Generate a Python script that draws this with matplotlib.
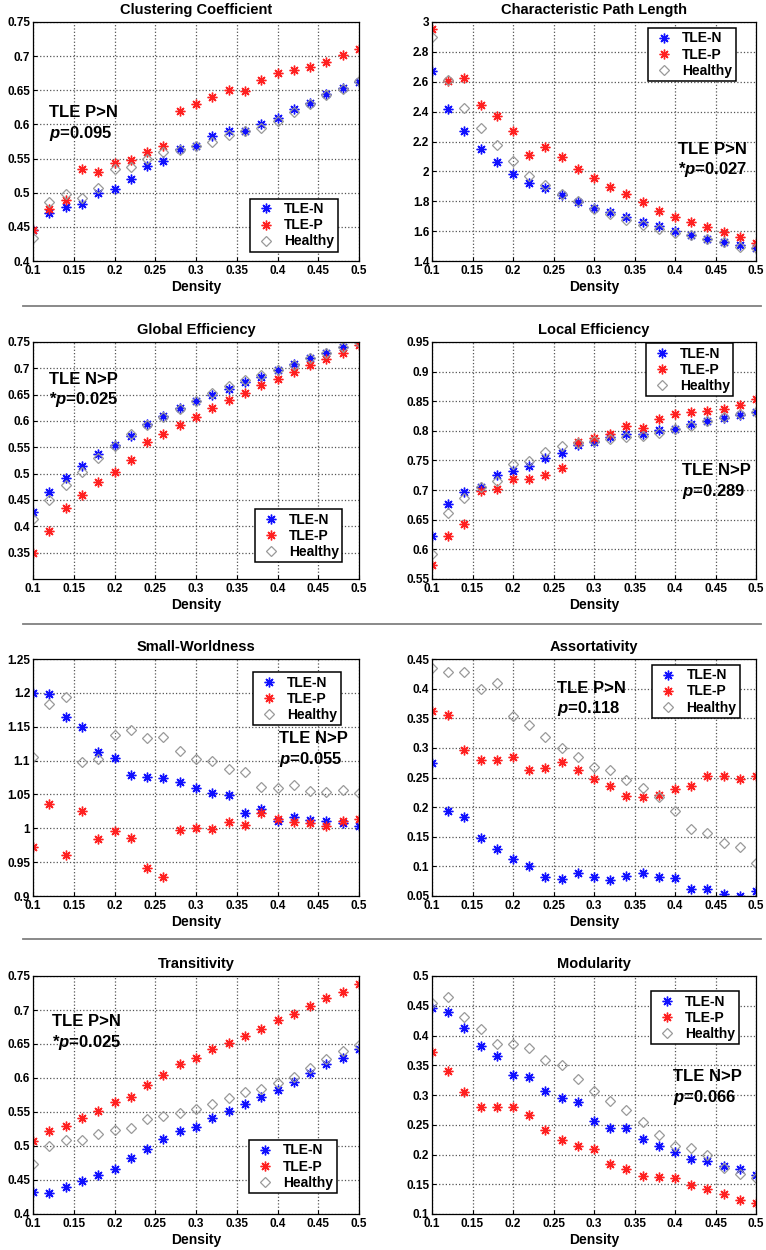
import numpy as np
import matplotlib
matplotlib.use("Agg")
import matplotlib.pyplot as plt
from matplotlib.lines import Line2D

plt.rcParams["font.family"] = ["Liberation Sans", "DejaVu Sans"]
plt.rcParams["font.weight"] = "bold"
plt.rcParams["mathtext.fontset"] = "custom"
plt.rcParams["mathtext.it"] = "Liberation Sans:italic:bold"
plt.rcParams["mathtext.rm"] = "Liberation Sans:bold"

# density values (x axis)
density = [0.10, 0.12, 0.14, 0.16, 0.18, 0.20, 0.22, 0.24, 0.26, 0.28, 0.30,
           0.32, 0.34, 0.36, 0.38, 0.40, 0.42, 0.44, 0.46, 0.48, 0.50]

# clustering coefficient
cc_n = [0.446, 0.470, 0.479, 0.484, 0.500, 0.505, 0.520, 0.539, 0.547, 0.564, 0.569,
        0.583, 0.590, 0.591, 0.601, 0.609, 0.622, 0.631, 0.644, 0.653, 0.662]
cc_p = [0.446, 0.476, 0.489, 0.535, 0.531, 0.544, 0.548, 0.560, 0.568, 0.620, 0.630,
        0.640, 0.650, 0.649, 0.665, 0.676, 0.679, 0.684, 0.691, 0.701, 0.711]
cc_h = [0.433, 0.486, 0.498, 0.492, 0.507, 0.534, 0.538, 0.549, 0.559, 0.563, 0.568,
        0.575, 0.585, 0.591, 0.595, 0.605, 0.618, 0.630, 0.643, 0.652, 0.664]

# characteristic path length
cpl_n = [2.67, 2.42, 2.27, 2.15, 2.06, 1.985, 1.92, 1.89, 1.84, 1.795, 1.757,
         1.73, 1.694, 1.66, 1.632, 1.603, 1.571, 1.545, 1.525, 1.505, 1.485]
cpl_p = [2.95, 2.605, 2.623, 2.446, 2.368, 2.27, 2.107, 2.163, 2.098, 2.018, 1.953,
         1.897, 1.846, 1.792, 1.732, 1.697, 1.661, 1.63, 1.594, 1.56, 1.518]
cpl_h = [2.90, 2.612, 2.426, 2.288, 2.174, 2.067, 1.971, 1.908, 1.846, 1.80, 1.748,
         1.712, 1.672, 1.643, 1.614, 1.585, 1.571, 1.545, 1.525, 1.496, 1.485]

# global efficiency
ge_n = [0.428, 0.465, 0.492, 0.515, 0.537, 0.555, 0.571, 0.595, 0.610, 0.625, 0.638,
        0.650, 0.661, 0.674, 0.684, 0.697, 0.708, 0.720, 0.730, 0.741, 0.750]
ge_p = [0.349, 0.391, 0.434, 0.459, 0.485, 0.503, 0.526, 0.561, 0.576, 0.592, 0.608,
        0.624, 0.639, 0.653, 0.668, 0.679, 0.693, 0.706, 0.717, 0.730, 0.744]
ge_h = [0.414, 0.450, 0.478, 0.504, 0.529, 0.552, 0.575, 0.592, 0.608, 0.622, 0.638,
        0.653, 0.666, 0.677, 0.688, 0.697, 0.706, 0.720, 0.730, 0.741, 0.750]

# local efficiency
le_n = [0.623, 0.676, 0.697, 0.705, 0.726, 0.733, 0.741, 0.755, 0.763, 0.776, 0.781,
        0.790, 0.795, 0.794, 0.801, 0.804, 0.811, 0.816, 0.822, 0.826, 0.832]
le_p = [0.573, 0.623, 0.642, 0.699, 0.702, 0.719, 0.719, 0.726, 0.738, 0.782, 0.788,
        0.795, 0.809, 0.805, 0.820, 0.829, 0.832, 0.834, 0.837, 0.843, 0.853]
le_h = [0.592, 0.661, 0.686, 0.705, 0.716, 0.744, 0.750, 0.764, 0.774, 0.779, 0.783,
        0.786, 0.790, 0.792, 0.796, 0.803, 0.809, 0.816, 0.823, 0.828, 0.832]

# small-worldness
sw_n = [1.200, 1.199, 1.164, 1.150, 1.112, 1.104, 1.079, 1.076, 1.075, 1.068, 1.060,
        1.052, 1.049, 1.023, 1.028, 1.011, 1.016, 1.012, 1.011, 1.008, 1.004]
sw_p = [0.973, 1.036, 0.960, 1.025, 0.984, 0.996, 0.986, 0.941, 0.928, 0.997, 1.001,
        0.999, 1.010, 1.005, 1.023, 1.013, 1.009, 1.008, 1.004, 1.011, 1.014]
sw_h = [1.106, 1.183, 1.194, 1.098, 1.102, 1.138, 1.145, 1.134, 1.135, 1.114, 1.102,
        1.099, 1.087, 1.083, 1.061, 1.059, 1.064, 1.055, 1.054, 1.057, 1.052]

# assortativity
as_n = [0.275, 0.193, 0.184, 0.148, 0.129, 0.113, 0.100, 0.082, 0.078, 0.089, 0.082,
        0.077, 0.083, 0.089, 0.082, 0.081, 0.062, 0.062, 0.054, 0.050, 0.058]
as_p = [0.363, 0.356, 0.297, 0.280, 0.280, 0.285, 0.263, 0.266, 0.277, 0.262, 0.248,
        0.236, 0.218, 0.217, 0.221, 0.231, 0.236, 0.253, 0.252, 0.247, 0.253]
as_h = [0.435, 0.428, 0.428, 0.400, 0.410, 0.353, 0.339, 0.318, 0.299, 0.284, 0.267,
        0.262, 0.246, 0.233, 0.217, 0.194, 0.163, 0.156, 0.140, 0.133, 0.106]

# transitivity
tr_n = [0.433, 0.431, 0.440, 0.448, 0.458, 0.466, 0.483, 0.495, 0.510, 0.522, 0.528,
        0.541, 0.552, 0.562, 0.572, 0.582, 0.594, 0.607, 0.620, 0.630, 0.642]
tr_p = [0.507, 0.522, 0.530, 0.541, 0.551, 0.564, 0.572, 0.590, 0.605, 0.620, 0.630,
        0.642, 0.651, 0.662, 0.672, 0.686, 0.694, 0.706, 0.717, 0.726, 0.738]
tr_h = [0.474, 0.500, 0.509, 0.509, 0.517, 0.523, 0.527, 0.539, 0.544, 0.548, 0.554,
        0.562, 0.570, 0.579, 0.584, 0.593, 0.602, 0.615, 0.628, 0.639, 0.649]

# modularity
mo_n = [0.447, 0.439, 0.412, 0.383, 0.366, 0.334, 0.330, 0.306, 0.295, 0.288, 0.256,
        0.244, 0.244, 0.226, 0.214, 0.205, 0.193, 0.189, 0.181, 0.175, 0.166]
mo_p = [0.372, 0.340, 0.305, 0.280, 0.280, 0.280, 0.266, 0.241, 0.225, 0.214, 0.210,
        0.184, 0.176, 0.164, 0.163, 0.160, 0.149, 0.142, 0.134, 0.124, 0.119]
mo_h = [0.455, 0.465, 0.431, 0.411, 0.386, 0.386, 0.379, 0.358, 0.351, 0.327, 0.307,
        0.290, 0.274, 0.255, 0.232, 0.215, 0.211, 0.199, 0.177, 0.167, 0.160]

titles = ["Clustering Coefficient", "Characteristic Path Length",
          "Global Efficiency", "Local Efficiency",
          "Small-Worldness", "Assortativity",
          "Transitivity", "Modularity"]
notes = ["TLE P>N\n$\\mathit{p}$=0.095", "TLE P>N\n*$\\mathit{p}$=0.027",
         "TLE N>P\n*$\\mathit{p}$=0.025", "TLE N>P\n$\\mathit{p}$=0.289",
         "TLE N>P\n$\\mathit{p}$=0.055", "TLE P>N\n$\\mathit{p}$=0.118",
         "TLE P>N\n*$\\mathit{p}$=0.025", "TLE N>P\n$\\mathit{p}$=0.066"]
series = [(cc_n, cc_p, cc_h), (cpl_n, cpl_p, cpl_h),
          (ge_n, ge_p, ge_h), (le_n, le_p, le_h),
          (sw_n, sw_p, sw_h), (as_n, as_p, as_h),
          (tr_n, tr_p, tr_h), (mo_n, mo_p, mo_h)]

# layout per panel: y limits, y ticks, note position, legend anchor (upper-left corner)
ylims = [(0.4, 0.75), (1.4, 3.0), (0.3, 0.75), (0.55, 0.95),
         (0.9, 1.25), (0.05, 0.45), (0.4, 0.75), (0.1, 0.5)]
ysteps = [0.05, 0.2, 0.05, 0.05, 0.05, 0.05, 0.05, 0.05]
note_xy = [(0.05, 0.573), (0.76, 0.42), (0.05, 0.795), (0.77, 0.41),
           (0.755, 0.616), (0.386, 0.83), (0.058, 0.76), (0.744, 0.53)]
leg_xy = [(0.666, 0.26), (0.667, 0.975), (0.68, 0.294), (0.66, 0.995),
          (0.675, 0.945), (0.68, 0.975), (0.663, 0.311), (0.676, 0.936)]

col_left = [0.0431, 0.564]
col_w = [0.4256, 0.423]
row_bottom = [0.7912, 0.5368, 0.2832, 0.0288]
row_h = [0.1912, 0.1896, 0.1896, 0.1904]

fig = plt.figure(figsize=(7.66, 12.5), dpi=100)

for i in range(8):
    r, c = i // 2, i % 2
    ax = fig.add_axes([col_left[c], row_bottom[r], col_w[c], row_h[r]])
    yn, yp, yh = series[i]
    ax.plot(density, yn, linestyle="none", marker=(8, 2, 0), markersize=7,
            markeredgewidth=1.0, color="#1010ff", label="TLE-N")
    ax.plot(density, yp, linestyle="none", marker=(8, 2, 0), markersize=7,
            markeredgewidth=1.0, color="#ff2020", label="TLE-P")
    ax.plot(density, yh, linestyle="none", marker="D", markersize=5.5,
            markeredgewidth=0.9, markerfacecolor="none", color="#999999", label="Healthy")

    ax.set_xlim(0.1, 0.5)
    ax.set_ylim(*ylims[i])
    ax.set_xticks(np.arange(0.1, 0.5001, 0.05))
    lo, hi = ylims[i]
    start = lo if i != 2 else 0.35
    ax.set_yticks(np.arange(start, hi + 1e-6, ysteps[i]))
    ax.xaxis.set_major_formatter(matplotlib.ticker.FormatStrFormatter("%g"))
    ax.yaxis.set_major_formatter(matplotlib.ticker.FormatStrFormatter("%g"))
    ax.tick_params(direction="in", length=3, labelsize=8.5, pad=2)
    ax.tick_params(axis="x", pad=3)
    for lab in ax.get_xticklabels() + ax.get_yticklabels():
        lab.set_fontweight("bold")
    ax.grid(True, linestyle=":", color="#555555", linewidth=0.9)
    for s in ax.spines.values():
        s.set_linewidth(0.9)

    ax.set_title(titles[i], fontsize=10.5, fontweight="bold", pad=6)
    ax.set_xlabel("Density", fontsize=10, fontweight="bold", labelpad=2)
    ax.text(note_xy[i][0], note_xy[i][1], notes[i], transform=ax.transAxes,
            fontsize=12, fontweight="bold", ha="left", va="center", linespacing=1.25)
    leg = ax.legend(loc="upper left", bbox_to_anchor=leg_xy[i], borderaxespad=0,
                    fancybox=False, framealpha=1, edgecolor="black",
                    prop={"size": 10, "weight": "bold"}, handletextpad=0.4,
                    handlelength=1.8, borderpad=0.25, labelspacing=0.15)
    leg.get_frame().set_linewidth(1.1)

for yy in [0.7552, 0.5008, 0.2488]:
    fig.add_artist(Line2D([0.03, 0.993], [yy, yy], color="#808080", linewidth=1.3))

fig.savefig("out.png", dpi=100)
